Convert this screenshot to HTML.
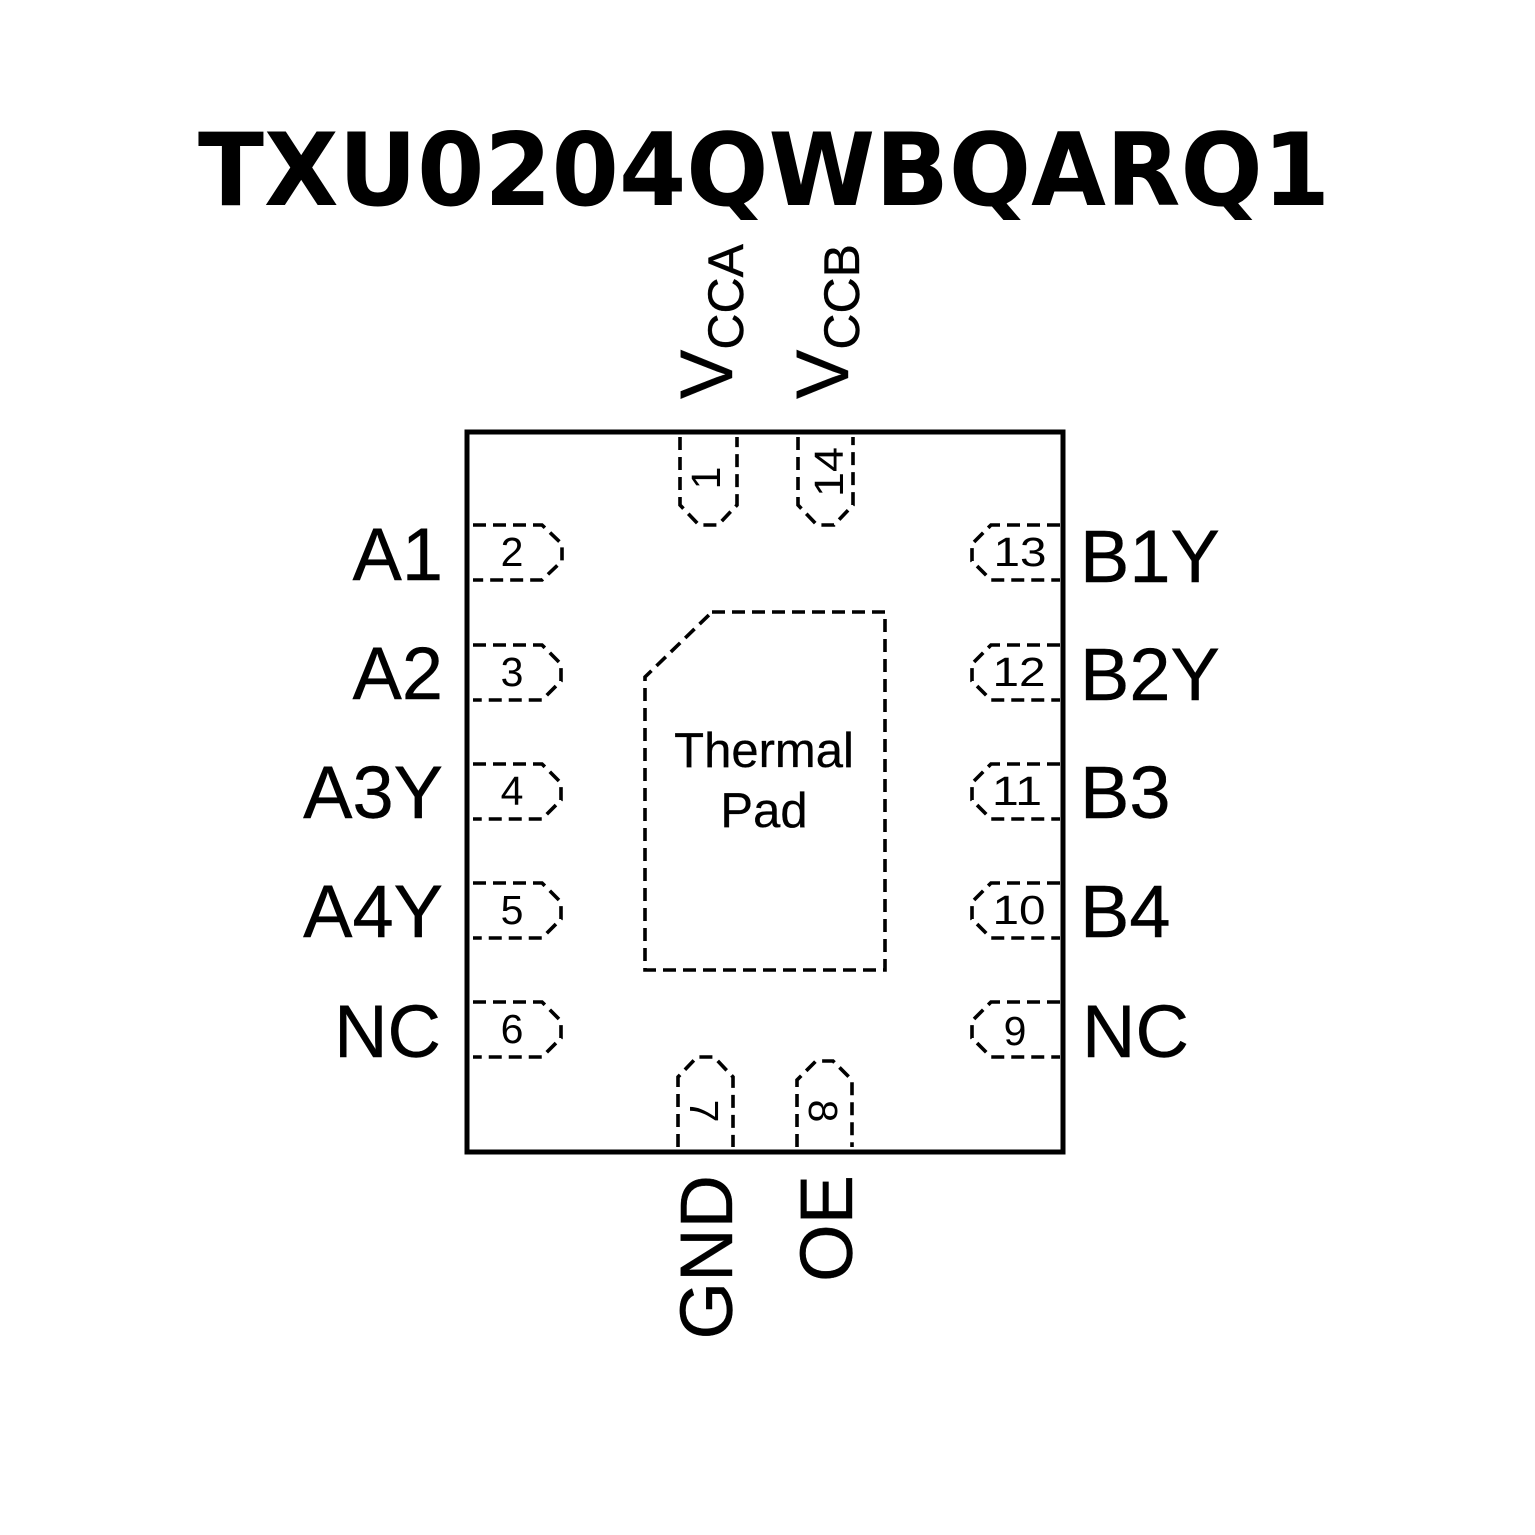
<!DOCTYPE html>
<html>
<head>
<meta charset="utf-8">
<style>
  html, body { margin:0; padding:0; background:#fff; }
  svg { display:block; }
  .lbl { font-family: "Liberation Sans", Arial, sans-serif; font-size:74px; fill:#000; stroke:#000; stroke-width:0.4; }
  .num { font-family: "Liberation Sans", Arial, sans-serif; font-size:41px; fill:#000; }
  .pin { fill:none; stroke:#000; stroke-width:3.6; stroke-dasharray:13 7; }
</style>
</head>
<body>
<svg width="1535" height="1535" viewBox="0 0 1535 1535" xmlns="http://www.w3.org/2000/svg">
  <rect x="0" y="0" width="1535" height="1535" fill="#fff"/>

  <!-- Title -->
  <text x="198" y="205" font-family="'DejaVu Sans', 'Liberation Sans', sans-serif" font-weight="bold" font-size="101" textLength="1132" lengthAdjust="spacingAndGlyphs" fill="#000">TXU0204QWBQARQ1</text>

  <!-- Package body -->
  <rect x="467" y="432" width="596" height="720" fill="none" stroke="#000" stroke-width="5"/>

  <!-- Thermal pad -->
  <path class="pin" d="M712 612 L885 612 L885 970 L645 970 L645 677 Z"/>
  <text class="lbl" x="764" y="767" text-anchor="middle" style="font-size:49px;stroke-width:0.3">Thermal</text>
  <text class="lbl" x="764" y="827" text-anchor="middle" style="font-size:49px;stroke-width:0.3">Pad</text>

  <!-- Left pins -->
  <path class="pin" d="M473 525 L542 525 L562 544 L562 561 L542 580 L473 580"/>
  <path class="pin" d="M473 645 L542 645 L561 664 L561 681 L542 700 L473 700"/>
  <path class="pin" d="M473 764 L542 764 L561 783 L561 800 L542 819 L473 819"/>
  <path class="pin" d="M473 883 L542 883 L561 902 L561 919 L542 938 L473 938"/>
  <path class="pin" d="M473 1002 L542 1002 L561 1021 L561 1038 L542 1057 L473 1057"/>

  <text class="num" x="512" y="566" text-anchor="middle">2</text>
  <text class="num" x="512" y="686" text-anchor="middle">3</text>
  <text class="num" x="512" y="805" text-anchor="middle">4</text>
  <text class="num" x="512" y="924" text-anchor="middle">5</text>
  <text class="num" x="512" y="1043" text-anchor="middle">6</text>

  <text class="lbl" x="443" y="580" text-anchor="end">A1</text>
  <text class="lbl" x="443" y="699" text-anchor="end">A2</text>
  <text class="lbl" x="443" y="818" text-anchor="end">A3Y</text>
  <text class="lbl" x="443" y="937" text-anchor="end">A4Y</text>
  <text class="lbl" x="441" y="1057" text-anchor="end">NC</text>

  <!-- Right pins -->
  <path class="pin" d="M1060 525 L991 525 L972 544 L972 561 L991 580 L1060 580"/>
  <path class="pin" d="M1060 645 L991 645 L972 664 L972 681 L991 700 L1060 700"/>
  <path class="pin" d="M1060 764 L991 764 L972 783 L972 800 L991 819 L1060 819"/>
  <path class="pin" d="M1060 883 L991 883 L972 902 L972 919 L991 938 L1060 938"/>
  <path class="pin" d="M1060 1002 L991 1002 L972 1021 L972 1038 L991 1057 L1060 1057"/>

  <text class="num" x="1020" y="566" text-anchor="middle" textLength="53" lengthAdjust="spacingAndGlyphs">13</text>
  <text class="num" x="1019" y="686" text-anchor="middle" textLength="53" lengthAdjust="spacingAndGlyphs">12</text>
  <text class="num" x="1017" y="805" text-anchor="middle" textLength="50" lengthAdjust="spacingAndGlyphs">11</text>
  <text class="num" x="1019" y="924" text-anchor="middle" textLength="53" lengthAdjust="spacingAndGlyphs">10</text>
  <text class="num" x="1015" y="1045" text-anchor="middle">9</text>

  <text class="lbl" x="1080" y="582">B1Y</text>
  <text class="lbl" x="1080" y="700">B2Y</text>
  <text class="lbl" x="1080" y="818">B3</text>
  <text class="lbl" x="1080" y="937">B4</text>
  <text class="lbl" x="1082" y="1057">NC</text>

  <!-- Top pins -->
  <path class="pin" d="M680 437 L680 505 L699 525 L718 525 L737 505 L737 437"/>
  <path class="pin" d="M798 437 L798 505 L817 525 L834 525 L853 505 L853 437"/>
  <text class="num" transform="translate(720,478) rotate(-90)" x="0" y="0" text-anchor="middle">1</text>
  <text class="num" transform="translate(843,472) rotate(-90)" x="0" y="0" text-anchor="middle" textLength="50" lengthAdjust="spacingAndGlyphs">14</text>

  <text class="lbl" transform="translate(732,399) rotate(-90)" x="0" y="0">V<tspan dy="11" style="font-size:50px">CCA</tspan></text>
  <text class="lbl" transform="translate(848,399) rotate(-90)" x="0" y="0">V<tspan dy="11" style="font-size:50px">CCB</tspan></text>

  <!-- Bottom pins -->
  <path class="pin" d="M678 1147 L678 1077 L697 1057 L714 1057 L733 1077 L733 1147"/>
  <path class="pin" d="M797 1147 L797 1080 L816 1061 L833 1061 L852 1080 L852 1147"/>
  <text class="num" transform="translate(690,1111) rotate(90)" x="0" y="0" text-anchor="middle">7</text>
  <text class="num" transform="translate(809,1111) rotate(90)" x="0" y="0" text-anchor="middle">8</text>

  <text class="lbl" transform="translate(732,1175) rotate(-90)" x="0" y="0" text-anchor="end">GND</text>
  <text class="lbl" transform="translate(852,1175) rotate(-90)" x="0" y="0" text-anchor="end">OE</text>
</svg>
</body>
</html>
